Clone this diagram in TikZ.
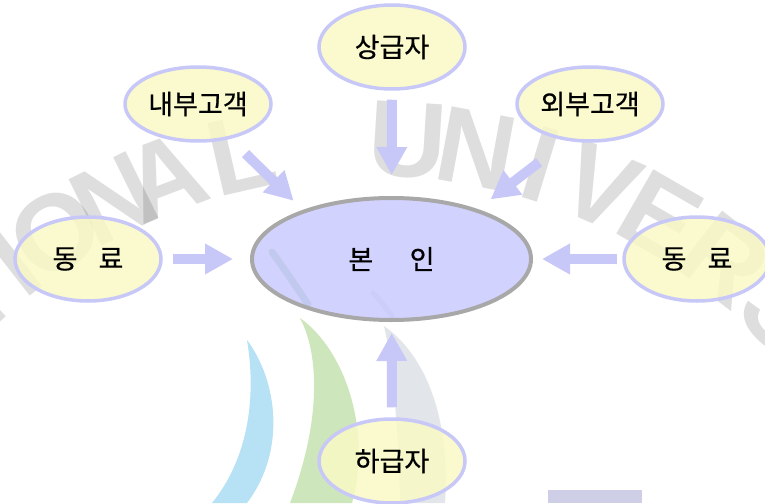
\documentclass[tikz,border=0pt]{standalone}
\usepackage{fontspec}
\newfontfamily\krfont{Noto Sans CJK KR}[FakeBold=0.6]
\newfontfamily\wmfont{Liberation Sans}
\usetikzlibrary{arrows.meta,shapes.geometric,calc}
\definecolor{pale}{RGB}{250,250,196}
\definecolor{lav}{RGB}{200,200,248}
\definecolor{selffill}{RGB}{204,204,255}
\definecolor{selfline}{RGB}{168,168,168}
\definecolor{arr}{RGB}{200,200,248}
\definecolor{wmblue}{RGB}{160,215,242}
\definecolor{wmgreen}{RGB}{190,222,165}
\definecolor{wmgray}{RGB}{215,218,224}
\definecolor{wmpurple}{RGB}{190,190,222}
\begin{document}
\begin{tikzpicture}[x=1pt,y=-1pt,
  small/.style={ellipse, draw=lav, line width=3.5pt, fill=pale, fill opacity=0.82,
    text opacity=1, minimum width=146pt, minimum height=84pt, inner sep=0pt,
    font=\krfont\fontsize{27}{30}\selectfont},
  flat/.style={small, minimum height=74pt},
  selfbox/.style={ellipse, draw=selfline, line width=4pt, fill=selffill, fill opacity=0.88,
    text opacity=1, minimum width=279pt, minimum height=122pt, inner sep=0pt,
    font=\krfont\fontsize{27}{30}\selectfont},
  barrow/.style={draw=arr, line width=10pt, -{Triangle[width=29pt,length=28pt]}},
  wm/.style={font=\wmfont\bfseries\fontsize{108}{108}\selectfont, text=black,
    text opacity=0.13, inner sep=0pt, anchor=center},
  band/.style={fill opacity=0.75, draw=none}]
\useasboundingbox (0,0) rectangle (765,503);
\clip (0,0) rectangle (765,503);
\fill[white] (0,0) rectangle (765,503);

% faint watermark (logo), behind the diagram
\foreach \ch/\a in {N/145,A/139,T/133,I/128,O/123,N/116.3,A/110.8,L/102.9,
  U/86.4,N/79.5,I/73,V/66.7,E/60.1,R/52.4,S/44.5,I/39,T/34,Y/28}
  \node[wm, rotate=\a-90] at ($(371,719)+(-\a:580)$) {\ch};
\fill[band, wmblue] (247,340) .. controls (277,380) and (287,450) .. (247,503)
  -- (212,503) .. controls (247,460) and (257,400) .. (247,340) -- cycle;
\fill[band, wmgreen] (300,318) .. controls (345,350) and (372,430) .. (352,503)
  -- (290,503) .. controls (318,430) and (322,360) .. (300,318) -- cycle;
\fill[band, wmgray, fill opacity=0.7] (384,326) .. controls (432,360) and (450,430) .. (445,503)
  -- (400,503) .. controls (398,430) and (394,370) .. (384,326) -- cycle;
\draw[black!55!green, line width=7pt, opacity=0.5, line cap=round] (272,252) .. controls (285,270) and (297,288) .. (308,304);
\draw[black!40, line width=5pt, opacity=0.4, line cap=round] (373,293) .. controls (380,300) and (386,308) .. (392,316);
\fill[band, wmpurple] (548,490) rectangle (642,503);

% nodes
\node[selfbox] (self) at (391.5,259) {본\hspace{1.35em}인};
\node[small] (boss) at (392,47) {상급자};
\node[flat] (ib) at (198,104) {내부고객};
\node[flat] (ob) at (590,104) {외부고객};
\node[small] (lc) at (88,259) {동\hspace{0.78em}료};
\node[small] (rc) at (697,259) {동\hspace{0.78em}료};
\node[small] (sub) at (392,461) {하급자};

% connectors
\draw[barrow, shorten <=9pt, shorten >=21pt] (boss) -- (self);
\draw[barrow, shorten <=10pt, shorten >=11pt] (sub) -- (self);
\draw[barrow, shorten <=10pt, shorten >=17pt] (lc) -- (self);
\draw[barrow, shorten <=5pt, shorten >=9pt] (rc) -- (self);
\draw[barrow, shorten <=21pt, shorten >=13pt] (ib.-47) -- (self.151);
\draw[barrow, shorten <=35pt, shorten >=16pt] (ob.-122) -- (self.30);
\end{tikzpicture}
\end{document}
